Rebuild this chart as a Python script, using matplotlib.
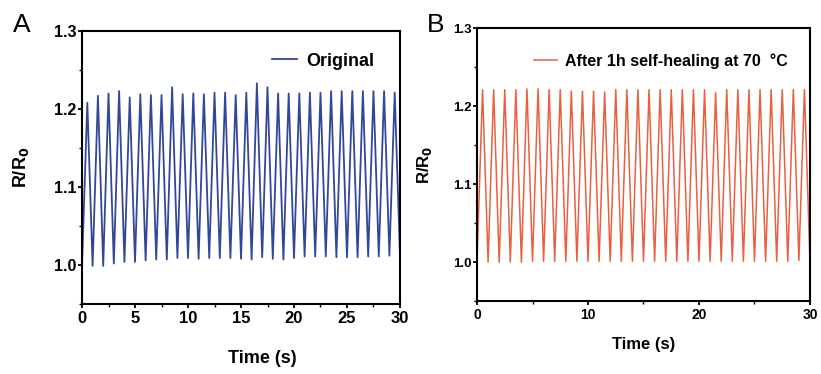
import matplotlib
matplotlib.use("Agg")
import matplotlib.pyplot as plt
from matplotlib.ticker import MultipleLocator

plt.rcParams['font.family'] = ['Liberation Sans', 'DejaVu Sans']

# time axis: start, then alternating peak / trough every half second
time_s = [0, 0.5, 1, 1.5, 2, 2.5, 3, 3.5, 4, 4.5, 5, 5.5, 6, 6.5, 7, 7.5,
          8, 8.5, 9, 9.5, 10, 10.5, 11, 11.5, 12, 12.5, 13, 13.5, 14, 14.5,
          15, 15.5, 16, 16.5, 17, 17.5, 18, 18.5, 19, 19.5, 20, 20.5, 21,
          21.5, 22, 22.5, 23, 23.5, 24, 24.5, 25, 25.5, 26, 26.5, 27, 27.5,
          28, 28.5, 29, 29.5, 30]

# panel A - original sample
orig_start = 1.0
orig_peaks = [1.208, 1.217, 1.220, 1.223, 1.215, 1.219, 1.218, 1.218, 1.228, 1.219,
              1.220, 1.219, 1.221, 1.221, 1.218, 1.221, 1.233, 1.228, 1.220, 1.220,
              1.220, 1.221, 1.221, 1.223, 1.223, 1.223, 1.223, 1.223, 1.223, 1.221]
orig_troughs = [0.999, 0.999, 1.002, 1.004, 1.004, 1.006, 1.007, 1.007, 1.009, 1.009,
                1.008, 1.009, 1.009, 1.009, 1.008, 1.007, 1.010, 1.008, 1.007, 1.009,
                1.011, 1.011, 1.011, 1.010, 1.010, 1.010, 1.011, 1.011, 1.012, 1.013]

# panel B - after self-healing
healed_start = 1.0
healed_peaks = [1.221, 1.221, 1.221, 1.221, 1.222, 1.222, 1.221, 1.221, 1.219, 1.219,
                1.219, 1.218, 1.221, 1.221, 1.221, 1.221, 1.221, 1.221, 1.221, 1.221,
                1.221, 1.217, 1.221, 1.221, 1.221, 1.221, 1.221, 1.221, 1.221, 1.221]
healed_troughs = [1.000, 1.000, 1.000, 1.000, 1.001, 1.001, 1.001, 1.001, 1.001, 1.001,
                  1.001, 1.001, 1.001, 1.001, 1.001, 1.001, 1.001, 1.001, 1.001, 1.001,
                  1.001, 1.001, 1.001, 1.001, 1.001, 1.001, 1.001, 1.001, 1.002, 1.000]


def build_series(start, peaks, troughs):
    vals = [start]
    for p, t in zip(peaks, troughs):
        vals.append(p)
        vals.append(t)
    return vals


orig = build_series(orig_start, orig_peaks, orig_troughs)
healed = build_series(healed_start, healed_peaks, healed_troughs)

fig = plt.figure(figsize=(8.21, 3.74), dpi=100)
axA = fig.add_axes([0.0999, 0.187, 0.3873, 0.730])
axB = fig.add_axes([0.581, 0.195, 0.4056, 0.730])


def style_axes(ax, xmajor, xminor, xsize, ysize, labsize):
    ax.set_xlim(0, 30)
    ax.set_ylim(0.95, 1.3)
    ax.xaxis.set_major_locator(MultipleLocator(xmajor))
    ax.xaxis.set_minor_locator(MultipleLocator(xminor))
    ax.yaxis.set_major_locator(MultipleLocator(0.1))
    ax.yaxis.set_minor_locator(MultipleLocator(0.05))
    for s in ax.spines.values():
        s.set_linewidth(1.5)
    ax.tick_params(which='major', direction='out', length=3, width=1.3)
    ax.tick_params(which='minor', direction='out', length=2, width=1.0)
    ax.tick_params(axis='x', labelsize=xsize, pad=2)
    ax.tick_params(axis='y', labelsize=ysize, pad=1)
    for lab in ax.get_xticklabels() + ax.get_yticklabels():
        lab.set_fontweight('bold')
    ax.set_ylabel('R/R$_\\mathbf{0}$', fontsize=labsize, fontweight='bold')
    ax.set_xlabel('Time (s)', fontsize=labsize, fontweight='bold')


# panel A
axA.plot(time_s, orig, color='#33479a', lw=1.3, label='Original')
style_axes(axA, 5, 2.5, 12, 11.5, 13)
axA.xaxis.set_label_coords(0.566, -0.17)
axA.yaxis.set_label_coords(-0.16, 0.5)
axA.legend(loc='upper right', bbox_to_anchor=(0.97, 0.98), frameon=False,
           prop={'size': 13, 'weight': 'bold'}, handlelength=1.4, handletextpad=0.5)
fig.text(0.016, 0.915, 'A', fontsize=19)

# panel B
axB.plot(time_s, healed, color='#e8603f', lw=1.1, label='After 1h self-healing at 70  °C')
style_axes(axB, 10, 5, 10, 9.5, 12)
axB.xaxis.set_label_coords(0.5, -0.13)
axB.yaxis.set_label_coords(-0.13, 0.5)
axB.legend(loc='upper right', bbox_to_anchor=(0.975, 0.96), frameon=False,
           prop={'size': 11.5, 'weight': 'bold'}, handlelength=1.4, handletextpad=0.5)
fig.text(0.52, 0.915, 'B', fontsize=19)

fig.savefig('out.png', dpi=100)
